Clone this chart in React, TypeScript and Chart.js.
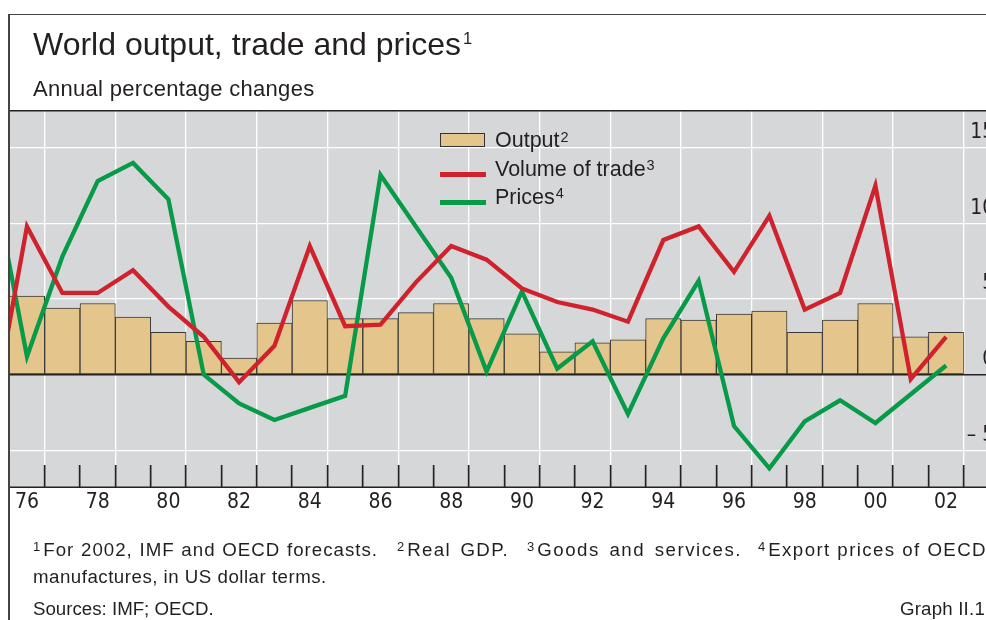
import React, { useEffect, useRef } from "react";
import { Chart, registerables } from "chart.js";

Chart.register(...registerables);

// ---- Data (annual % changes) ----
const years = [
  1976, 1977, 1978, 1979, 1980, 1981, 1982, 1983, 1984, 1985, 1986, 1987, 1988, 1989,
  1990, 1991, 1992, 1993, 1994, 1995, 1996, 1997, 1998, 1999, 2000, 2001, 2002,
];
const output = [
  5.2, 4.4, 4.7, 3.8, 2.8, 2.2, 1.1, 3.4, 4.9, 3.7, 3.7, 4.1, 4.7, 3.7,
  2.7, 1.5, 2.1, 2.3, 3.7, 3.6, 4.0, 4.2, 2.8, 3.6, 4.7, 2.5, 2.8,
];
const lineYears = [
  1975, 1976, 1977, 1978, 1979, 1980, 1981, 1982, 1983, 1984, 1985, 1986, 1987, 1988,
  1989, 1990, 1991, 1992, 1993, 1994, 1995, 1996, 1997, 1998, 1999, 2000, 2001, 2002,
];
const trade = [
  -3.1, 9.8, 5.4, 5.4, 6.9, 4.5, 2.5, -0.5, 1.9, 8.5, 3.2, 3.3, 6.1, 8.5,
  7.6, 5.7, 4.8, 4.3, 3.5, 8.9, 9.8, 6.8, 10.5, 4.3, 5.4, 12.5, -0.3, 2.5,
];
const prices = [
  13.4, 1.2, 7.8, 12.8, 14.0, 11.6, 0.0, -1.9, -3.0, -2.2, -1.4, 13.2, 9.8, 6.4,
  0.2, 5.5, 0.4, 2.2, -2.6, 2.4, 6.2, -3.4, -6.2, -3.1, -1.7, -3.2, -1.3, 0.6,
];
const yTicks = [-5, 0, 5, 10, 15];
const xBoundaries = years.map((y) => y + 0.5);

// ---- Styles ----
const GREY = "#d6d7d9";
const WHITE = "#ffffff";
const DARK = "#232323";
const TEXT = "#231f20";
const TAN = "#e4c68d";
const RED = "#d0222d";
const GREEN = "#079a48";
const SANS = '"Liberation Sans", Arial, Helvetica, sans-serif';
const NARROW = '"Liberation Sans Narrow", "DejaVu Sans Condensed", "Liberation Sans", sans-serif';

const plotBg = {
  id: "plotBg",
  beforeDraw(chart: any) {
    const { ctx, chartArea: a, width } = chart;
    ctx.save();
    ctx.fillStyle = GREY;
    ctx.fillRect(a.left, a.top, width - a.left, a.bottom - a.top);
    ctx.restore();
  },
  afterDraw(chart: any) {
    const { ctx, chartArea: a, width } = chart;
    ctx.save();
    ctx.strokeStyle = DARK;
    ctx.lineWidth = 1.6;
    ctx.beginPath();
    ctx.moveTo(a.left, a.top + 0.8);
    ctx.lineTo(width, a.top + 0.8);
    ctx.moveTo(a.left, a.bottom - 0.8);
    ctx.lineTo(width, a.bottom - 0.8);
    ctx.stroke();
    ctx.restore();
  },
};

function ChartCanvas() {
  const ref = useRef<HTMLCanvasElement | null>(null);
  useEffect(() => {
    if (!ref.current) return;
    const chart = new Chart(ref.current, {
      type: "bar",
      data: {
        datasets: [
          {
            type: "line",
            label: "Volume of trade",
            data: lineYears.map((x, i) => ({ x, y: trade[i] })),
            borderColor: RED,
            borderWidth: 4.3,
            pointRadius: 0,
            tension: 0,
            borderJoinStyle: "miter",
            order: 1,
          },
          {
            type: "line",
            label: "Prices",
            data: lineYears.map((x, i) => ({ x, y: prices[i] })),
            borderColor: GREEN,
            borderWidth: 4.3,
            pointRadius: 0,
            tension: 0,
            borderJoinStyle: "miter",
            order: 2,
          },
          {
            type: "bar",
            label: "Output",
            data: years.map((x, i) => ({ x, y: output[i] })),
            backgroundColor: TAN,
            borderColor: "#3a3a3a",
            borderWidth: 1,
            borderSkipped: false,
            barPercentage: 1,
            categoryPercentage: 1,
            order: 3,
          },
        ] as any,
      },
      options: {
        responsive: false,
        animation: false,
        devicePixelRatio: 1,
        events: [],
        layout: { padding: { left: 9.3, top: 110, right: 0, bottom: 0 } },
        plugins: {
          legend: { display: false },
          tooltip: { enabled: false },
          title: { display: false },
        },
        scales: {
          x: {
            type: "linear",
            min: 1975.5,
            max: 2002.5,
            offset: false,
            afterBuildTicks: (s: any) => {
              s.ticks = xBoundaries.map((v) => ({ value: v }));
            },
            afterFit: (s: any) => {
              s.height = 52;
            },
            border: { display: false },
            grid: {
              offset: false,
              color: (c: any) =>
                c.tick && Math.floor(c.tick.value) % 2 === 0 ? WHITE : "rgba(0,0,0,0)",
              lineWidth: 1.3,
              drawTicks: true,
              tickLength: -23,
              tickColor: DARK,
              tickWidth: 1.7,
            },
            ticks: {
              autoSkip: false,
              maxRotation: 0,
              minRotation: 0,
              padding: 27,
              labelOffset: -17.68,
              color: TEXT,
              font: { family: NARROW, size: 21, lineHeight: 1 },
              callback: (v: any) => {
                const yr = Math.round(Number(v) - 0.5);
                return yr % 2 === 0 ? String(yr % 100).padStart(2, "0") : "";
              },
            },
          },
          y: {
            position: "right",
            min: -7.5,
            max: 17.5,
            afterBuildTicks: (s: any) => {
              s.ticks = yTicks.map((v) => ({ value: v }));
            },
            afterFit: (s: any) => {
              s.width = 46.2;
            },
            border: { display: false },
            grid: {
              color: (c: any) => (c.tick && c.tick.value === 0 ? DARK : WHITE),
              lineWidth: (c: any) => (c.tick && c.tick.value === 0 ? 1.6 : 1.3),
              drawTicks: true,
              tickLength: 40,
              tickColor: (c: any) => (c.tick && c.tick.value === 0 ? DARK : WHITE),
              tickWidth: (c: any) => (c.tick && c.tick.value === 0 ? 1.6 : 1.3),
            },
            ticks: {
              mirror: true,
              padding: 30.5,
              labelOffset: -15,
              color: TEXT,
              font: { family: NARROW, size: 21, lineHeight: 1 },
              callback: (v: any) => (Number(v) < 0 ? "\u2013 " + Math.abs(Number(v)) : String(v)),
            },
          },
        },
      } as any,
      plugins: [plotBg],
    });
    return () => chart.destroy();
  }, []);
  return (
    <canvas
      ref={ref}
      width={1010}
      height={540}
      style={{ position: "absolute", left: 0, top: 0 }}
    />
  );
}

const sup = (size: number, raise: number, ml = 0, mr = 0): React.CSSProperties => ({
  fontSize: size,
  position: "relative",
  top: -raise,
  marginLeft: ml,
  marginRight: mr,
  lineHeight: 0,
  letterSpacing: 0,
});

export default function App() {
  const footFont: React.CSSProperties = {
    position: "absolute",
    fontFamily: SANS,
    fontSize: 18.7,
    lineHeight: "20px",
    letterSpacing: 0,
    color: TEXT,
    whiteSpace: "nowrap",
  };
  const seg = (left: number, right: number, ls: number): React.CSSProperties => ({
    ...footFont,
    left,
    width: right - left,
    top: 539.5,
    letterSpacing: ls,
    textAlign: "justify",
    textAlignLast: "justify" as any,
    whiteSpace: "normal",
  });
  const legendRow = (top: number): React.CSSProperties => ({
    position: "absolute",
    left: 495,
    top,
    fontFamily: SANS,
    fontSize: 21.5,
    lineHeight: "28px",
    color: TEXT,
    whiteSpace: "nowrap",
  });
  return (
    <div
      style={{
        position: "fixed",
        left: 0,
        top: 0,
        width: 986,
        height: 620,
        overflow: "hidden",
        background: "#ffffff",
      }}
    >
      <ChartCanvas />
      {/* frame */}
      <div
        style={{
          position: "absolute",
          left: 8,
          top: 14,
          width: 2000,
          height: 2000,
          borderLeft: "2px solid #444",
          borderTop: "1.6px solid #444",
          pointerEvents: "none",
        }}
      />
      {/* title */}
      <div
        style={{
          position: "absolute",
          left: 33,
          top: 28,
          fontFamily: SANS,
          fontSize: 32,
          lineHeight: "32px",
          color: TEXT,
          whiteSpace: "nowrap",
        }}
      >
        World output, trade and prices<span style={sup(16.5, 11.5, 2)}>1</span>
      </div>
      <div
        style={{
          position: "absolute",
          left: 33,
          top: 78,
          fontFamily: SANS,
          fontSize: 22,
          lineHeight: "22px",
          letterSpacing: 0.3,
          color: TEXT,
          whiteSpace: "nowrap",
        }}
      >
        Annual percentage changes
      </div>
      {/* legend */}
      <div
        style={{
          position: "absolute",
          left: 440,
          top: 133,
          width: 45,
          height: 14,
          boxSizing: "border-box",
          background: TAN,
          border: "1.5px solid #333",
        }}
      />
      <div style={{ position: "absolute", left: 440, top: 171.5, width: 46, height: 5, background: RED }} />
      <div style={{ position: "absolute", left: 440, top: 199.5, width: 46, height: 5, background: GREEN }} />
      <div style={legendRow(126)}>
        Output<span style={sup(14.5, 5.5, 1)}>2</span>
      </div>
      <div style={legendRow(154.5)}>
        Volume of trade<span style={sup(14.5, 5.5, 1)}>3</span>
      </div>
      <div style={legendRow(182.5)}>
        Prices<span style={sup(14.5, 5.5, 1)}>4</span>
      </div>
      {/* footnotes */}
      <div style={seg(33, 378, 1)}>
        <span style={sup(13, 5, 0, 3)}>1</span>For 2002, IMF and OECD forecasts.
      </div>
      <div style={seg(397, 509, 1.3)}>
        <span style={sup(13, 5, 0, 3)}>2</span>Real GDP.
      </div>
      <div style={seg(527, 742, 1.5)}>
        <span style={sup(13, 5, 0, 3)}>3</span>Goods and services.
      </div>
      <div style={seg(758, 987, 1.4)}>
        <span style={sup(13, 5, 0, 3)}>4</span>Export prices of OECD
      </div>
      <div style={{ ...footFont, left: 33, top: 566.5, letterSpacing: 0.5 }}>
        manufactures, in US dollar terms.
      </div>
      <div style={{ ...footFont, left: 33, top: 598.5 }}>Sources: IMF; OECD.</div>
      <div style={{ ...footFont, right: 1, top: 598.5, letterSpacing: 0.2 }}>Graph II.1</div>
    </div>
  );
}
